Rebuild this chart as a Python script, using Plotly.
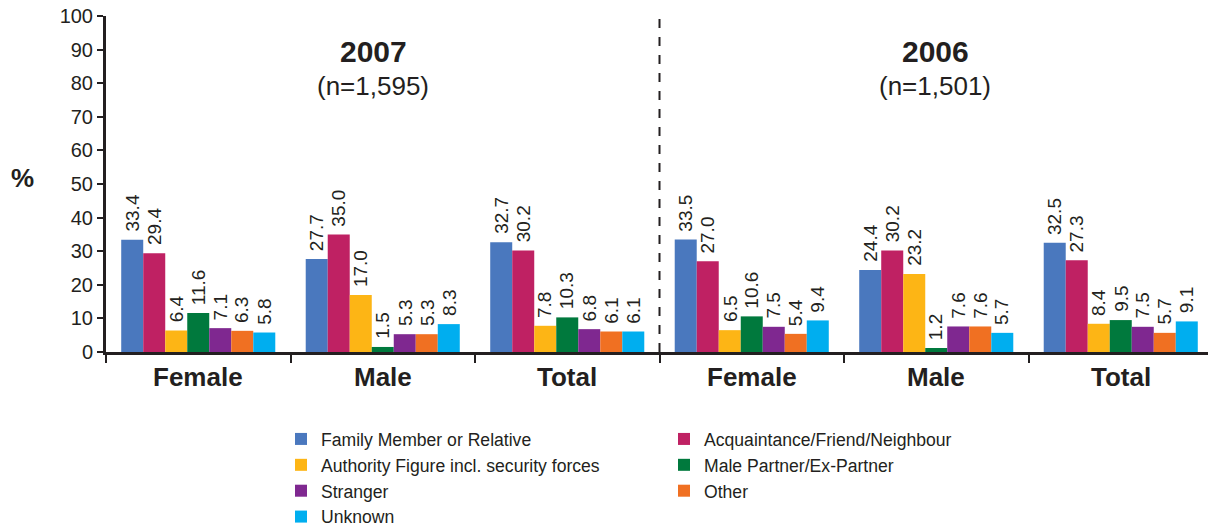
import plotly.graph_objects as go

# Perpetrator categories and their colours
series_names = [
    "Family Member or Relative",
    "Acquaintance/Friend/Neighbour",
    "Authority Figure incl. security forces",
    "Male Partner/Ex-Partner",
    "Stranger",
    "Other",
    "Unknown",
]
series_colors = ["#4a78be", "#bf2163", "#fdb515", "#00793d", "#7f2890", "#f07022", "#00aeef"]

# Groups: 2007 Female, Male, Total | 2006 Female, Male, Total
group_labels = ["Female", "Male", "Total", "Female", "Male", "Total"]

family = [33.4, 27.7, 32.7, 33.5, 24.4, 32.5]
acquaintance = [29.4, 35.0, 30.2, 27.0, 30.2, 27.3]
authority = [6.4, 17.0, 7.8, 6.5, 23.2, 8.4]
partner = [11.6, 1.5, 10.3, 10.6, 1.2, 9.5]
stranger = [7.1, 5.3, 6.8, 7.5, 7.6, 7.5]
other = [6.3, 5.3, 6.1, 5.4, 7.6, 5.7]
unknown = [5.8, 8.3, 6.1, 9.4, 5.7, 9.1]

series_values = [family, acquaintance, authority, partner, stranger, other, unknown]

year_titles = ["2007", "2006"]
year_counts = ["(n=1,595)", "(n=1,501)"]
y_ticks = list(range(0, 101, 10))

FONT = "Liberation Sans, Arial, sans-serif"
INK = "#231f20"

# plot area geometry (pixels)
W, H = 1208, 526
L, R, T, B = 106, 0, 16, 174
PW, PH = W - L - R, H - T - B

BARGAP = 0.165
n_series = len(series_names)
bar_w = (1 - BARGAP) / n_series

x_pos = list(range(len(group_labels)))

fig = go.Figure()
for k, (name, color, vals) in enumerate(zip(series_names, series_colors, series_values)):
    fig.add_trace(go.Bar(
        x=x_pos,
        y=vals,
        name=name,
        marker=dict(color=color, line=dict(width=0)),
    ))
    # rotated value labels above each bar
    for i, v in zip(x_pos, vals):
        xc = i - (1 - BARGAP) / 2 + (k + 0.5) * bar_w
        fig.add_annotation(
            x=xc, y=v, xref="x", yref="y",
            text=f"{v:.1f}", textangle=-90,
            xanchor="center", yanchor="bottom", yshift=6,
            showarrow=False,
            font=dict(family=FONT, size=19, color=INK),
        )

def px_x(p):
    return (p - L) / PW

def px_y(p):
    return (T + PH - p) / PH

# Year headings above each half
for xc, title, cnt in zip([373, 935], year_titles, year_counts):
    fig.add_annotation(x=px_x(xc), y=px_y(52), xref="paper", yref="paper",
                       xanchor="center", yanchor="middle",
                       text=f"<b>{title}</b>", showarrow=False,
                       font=dict(family=FONT, size=30, color=INK))
    fig.add_annotation(x=px_x(xc), y=px_y(86), xref="paper", yref="paper",
                       xanchor="center", yanchor="middle",
                       text=cnt, showarrow=False,
                       font=dict(family=FONT, size=26, color=INK))

# Group labels under the axis
for i, lab in enumerate(group_labels):
    fig.add_annotation(x=i, y=px_y(377), xref="x", yref="paper",
                       xanchor="center", yanchor="middle", text=f"<b>{lab}</b>",
                       showarrow=False, font=dict(family=FONT, size=26, color=INK))

# "%" axis caption
fig.add_annotation(x=px_x(22), y=px_y(178), xref="paper", yref="paper",
                   xanchor="center", yanchor="middle", text="<b>%</b>",
                   showarrow=False, font=dict(family=FONT, size=26, color=INK))

# Dashed divider between the two years
fig.add_shape(type="line", xref="x", yref="y", x0=2.5, x1=2.5, y0=0, y1=100,
              line=dict(color=INK, width=2, dash="dash"))

fig.update_layout(
    width=W,
    height=H,
    margin=dict(l=L, r=R, t=T, b=B, autoexpand=False),
    plot_bgcolor="white",
    paper_bgcolor="white",
    barmode="group",
    bargap=BARGAP,
    bargroupgap=0,
    font=dict(family=FONT, color=INK),
    showlegend=True,
    legend=dict(
        orientation="h",
        x=px_x(281),
        xanchor="left",
        y=px_y(421),
        yanchor="top",
        entrywidth=338,
        entrywidthmode="pixels",
        font=dict(family=FONT, size=17.6, color=INK),
        bgcolor="rgba(0,0,0,0)",
        traceorder="normal",
    ),
    xaxis=dict(
        range=[-0.5, -0.5 + PW / 184.5],
        tickvals=[-0.5, 0.5, 1.5, 2.5, 3.5, 4.5, 5.5],
        ticktext=[""] * 7,
        ticks="outside",
        ticklen=8,
        tickwidth=2,
        tickcolor=INK,
        showline=True,
        linecolor=INK,
        linewidth=3,
        showgrid=False,
        zeroline=False,
        fixedrange=True,
    ),
    yaxis=dict(
        range=[0, 100],
        tickvals=y_ticks,
        ticks="outside",
        ticklen=6,
        tickwidth=2,
        tickcolor=INK,
        showline=True,
        linecolor=INK,
        linewidth=3,
        showgrid=False,
        zeroline=False,
        tickfont=dict(family=FONT, size=20, color=INK),
        fixedrange=True,
    ),
)

fig.write_html("out.html")
